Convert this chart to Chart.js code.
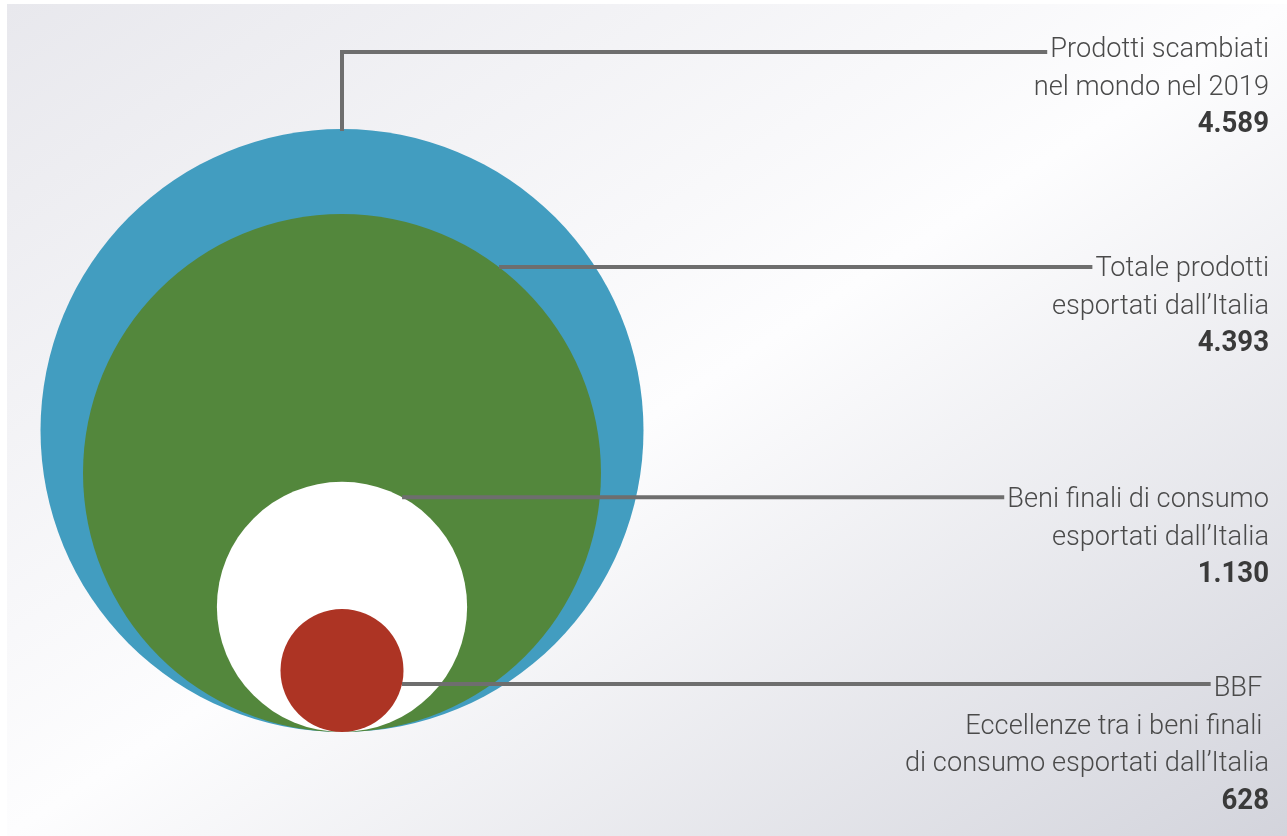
<!DOCTYPE html>
<html><head><meta charset="utf-8">
<script src="https://cdn.jsdelivr.net/npm/chart.js@4"></script>
<style>
html,body{margin:0;padding:0;width:1287px;height:836px;overflow:hidden;background:#fff;}
#bg{position:absolute;left:7px;top:4px;right:0;bottom:0;background:linear-gradient(to bottom right,#e8e8ed 0%,#fdfdfe 50%,#d3d4dc 100%);}
#c{position:absolute;left:0;top:0;}
</style></head><body><div id="bg"></div><canvas id="c" width="1287" height="836"></canvas>
<script>
// ---- data ----
const categories = ["Prodotti scambiati nel mondo nel 2019", "Totale prodotti esportati dall’Italia", "Beni finali di consumo esportati dall’Italia", "BBF – Eccellenze tra i beni finali di consumo esportati dall’Italia"];
const labelLines = [
  ["Prodotti scambiati", "nel mondo nel 2019"],
  ["Totale prodotti", "esportati dall’Italia"],
  ["Beni finali di consumo", "esportati dall’Italia"],
  ["BBF ", "Eccellenze tra i beni finali ", "di consumo esportati dall’Italia"]
];
const values = [4589, 4393, 1130, 628];
const bubbleRadius = [100, 85.9, 41.5, 20.4]; // relative circle radii as drawn
const colors = ["#429dc0", "#53873c", "#ffffff", "#ad3424"];

function fmtIt(v){ return String(v).replace(/\B(?=(\d{3})+(?!\d))/g, "."); }

// layout of the callouts (anchor height in y-axis units, first baseline in px)
const callouts = [
  {anchor: 225.5, vertical: true, baseline: 57},
  {anchor: 154.2, baseline: 276},
  {anchor: 77.9, baseline: 507},
  {anchor: 15.9, baseline: 696}
];

function radiusPx(chart, r){
  const ys = chart.scales && chart.scales.y;
  if (!ys || !isFinite(r)) return 0;
  const v = ys.getPixelForValue(0) - ys.getPixelForValue(r);
  return isFinite(v) && v > 0 ? v : 0;
}

const calloutPlugin = {
  id: "callouts",
  afterDatasetsDraw(chart){
    const ctx = chart.ctx, ys = chart.scales.y, xs = chart.scales.x;
    const rightEdge = 1269, lineH = 37.5, sx = 0.972, sxb = 0.92;
    const regFont = "300 28px Roboto", boldFont = "700 30px Roboto";
    ctx.save();
    callouts.forEach((c, i) => {
      const R = radiusPx(chart, bubbleRadius[i]);
      const cx = xs.getPixelForValue(0), cy = ys.getPixelForValue(bubbleRadius[i]);
      const lines = labelLines[i];
      ctx.textAlign = "right"; ctx.textBaseline = "alphabetic";
      let firstLeft = 0;
      lines.forEach((t, k) => {
        ctx.save();
        ctx.font = regFont; ctx.fillStyle = "#4a4a4a";
        const w = ctx.measureText(t).width * sx;
        if (k === 0) firstLeft = rightEdge - w;
        ctx.translate(rightEdge, c.baseline + k * lineH);
        ctx.scale(sx, 1);
        ctx.fillText(t, 0, 0);
        ctx.restore();
      });
      ctx.save();
      ctx.font = boldFont; ctx.fillStyle = "#3a3a3a";
      ctx.translate(rightEdge, c.baseline + lines.length * lineH);
      ctx.scale(sxb, 1);
      ctx.fillText(fmtIt(values[i]), 0, 0);
      ctx.restore();
      const ly = ys.getPixelForValue(c.anchor);
      ctx.strokeStyle = "#6e6e6e"; ctx.lineWidth = 4; ctx.lineJoin = "miter"; ctx.lineCap = "butt";
      ctx.beginPath();
      if (c.vertical) {
        ctx.moveTo(cx, cy - R + 2);
        ctx.lineTo(cx, ly);
        ctx.lineTo(firstLeft - 3, ly);
      } else {
        const dy = ly - cy;
        const x0 = cx + Math.sqrt(Math.max(0, R * R - dy * dy));
        ctx.moveTo(x0, ly);
        ctx.lineTo(firstLeft - 3, ly);
      }
      ctx.stroke();
    });
    ctx.restore();
  }
};

new Chart(document.getElementById("c"), {
  type: "scatter",
  data: {
    labels: categories,
    datasets: [{
      data: bubbleRadius.map(r => ({x: 0, y: r})),
      showLine: false,
      pointBackgroundColor: colors,
      pointBorderWidth: 0,
      pointBorderColor: "rgba(0,0,0,0)",
      clip: false,
      pointRadius: (ctx) => ctx.raw ? radiusPx(ctx.chart, ctx.raw.y) : 0
    }]
  },
  options: {
    responsive: false,
    animation: false,
    events: [],
    layout: {padding: {left: 41, right: 644, top: 129, bottom: 104}},
    scales: {
      x: {type: "linear", min: -100, max: 100, display: false},
      y: {type: "linear", min: 0, max: 200, display: false}
    },
    plugins: {legend: {display: false}, tooltip: {enabled: false}}
  },
  plugins: [calloutPlugin]
});
</script>
</body></html>
